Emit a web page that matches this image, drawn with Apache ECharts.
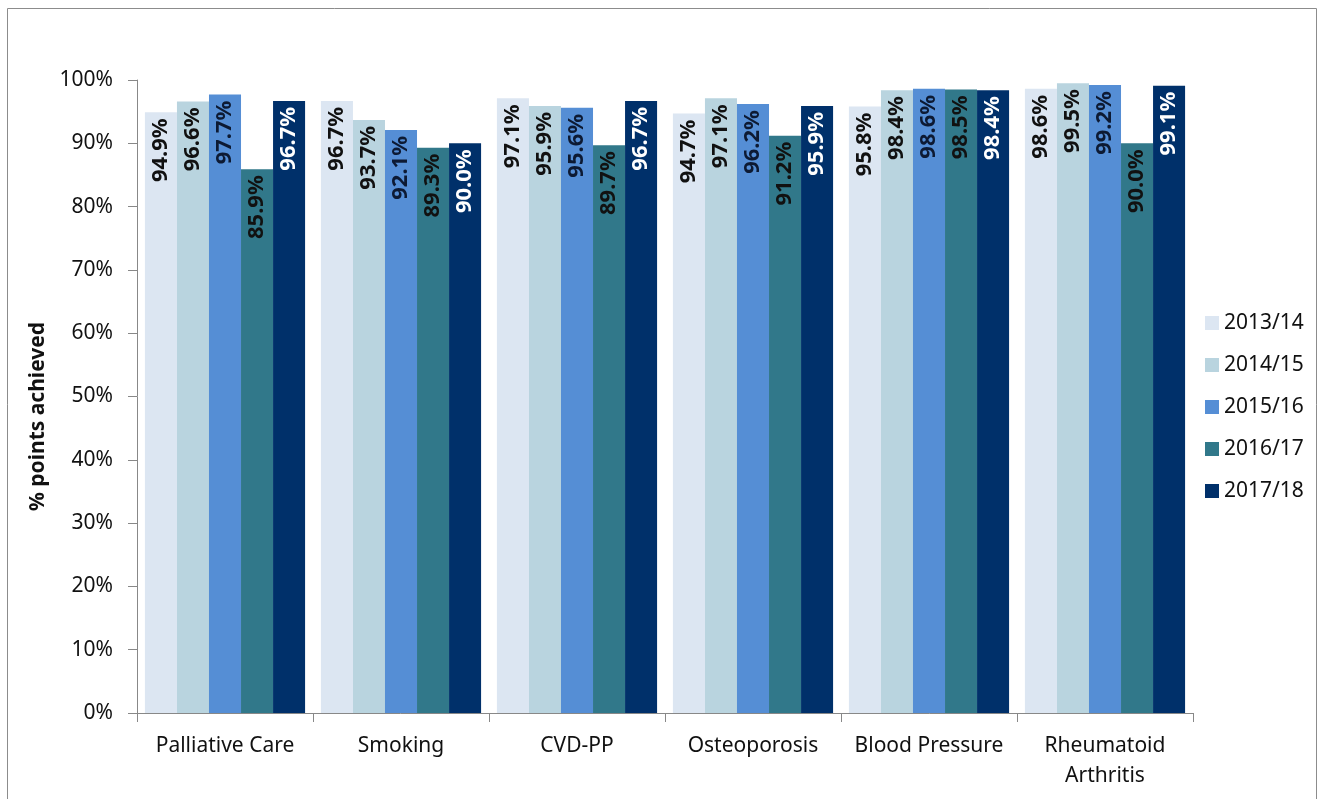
<!DOCTYPE html>
<html>
<head>
<meta charset="utf-8">
<script src="https://cdn.jsdelivr.net/npm/echarts@6/dist/echarts.min.js"></script>
<style>html,body{margin:0;padding:0;background:#fff}#c{width:1324px;height:799px}</style>
</head>
<body>
<div id="c"></div>
<script>
const categories = ['Palliative Care', 'Smoking', 'CVD-PP', 'Osteoporosis', 'Blood Pressure', 'Rheumatoid\nArthritis'];
const seriesNames = ['2013/14', '2014/15', '2015/16', '2016/17', '2017/18'];
const v2013 = [94.9, 96.7, 97.1, 94.7, 95.8, 98.6];
const v2014 = [96.6, 93.7, 95.9, 97.1, 98.4, 99.5];
const v2015 = [97.7, 92.1, 95.6, 96.2, 98.6, 99.2];
const v2016 = [85.9, 89.3, 89.7, 91.2, 98.5, 90.0];
const v2017 = [96.7, 90.0, 96.7, 95.9, 98.4, 99.1];
const yTicks = [0, 10, 20, 30, 40, 50, 60, 70, 80, 90, 100];

const values = [v2013, v2014, v2015, v2016, v2017];
const colors = ['#DCE6F2', '#B9D4DF', '#558ED5', '#31788A', '#00306A'];
const labelColors = ['#111', '#111', '#0d1a33', '#111', '#fff'];
const FONT = 'Noto Sans';

const chart = echarts.init(document.getElementById('c'));
chart.setOption({
  animation: false,
  textStyle: { fontFamily: FONT },
  graphic: [{
    type: 'rect', shape: { x: 7.5, y: 8.5, width: 1309, height: 800 },
    style: { fill: 'none', stroke: '#8c8c8c', lineWidth: 1 }, silent: true
  }],
  grid: { left: 137, right: 131, top: 80, bottom: 86 },
  legend: {
    orient: 'vertical', left: 1200, top: 307, itemGap: 20,
    itemWidth: 14, itemHeight: 14, icon: 'rect',
    textStyle: { fontFamily: FONT, fontSize: 21, color: '#111', lineHeight: 22 },
    data: seriesNames
  },
  xAxis: {
    type: 'category', data: categories,
    axisLine: { lineStyle: { color: '#888' } },
    axisTick: { show: true, length: 9, lineStyle: { color: '#888' } },
    axisLabel: { fontFamily: FONT, fontSize: 21, color: '#111', margin: 18, lineHeight: 30, interval: 0 }
  },
  yAxis: {
    type: 'value', min: 0, max: 100, interval: 10,
    name: '% points achieved', nameLocation: 'middle', nameGap: 82,
    nameTextStyle: { fontFamily: FONT, fontSize: 21, fontWeight: 'bold', color: '#111', padding: [0, 40, 0, 0] },
    axisLine: { show: true, lineStyle: { color: '#888' } },
    axisTick: { show: true, length: 9, lineStyle: { color: '#888' } },
    splitLine: { show: false },
    axisLabel: {
      fontFamily: FONT, fontSize: 21, color: '#111', margin: 24,
      formatter: function (v) { return yTicks.indexOf(v) >= 0 ? v + '%' : ''; }
    }
  },
  series: seriesNames.map(function (n, i) {
    return {
      name: n, type: 'bar', data: values[i],
      barGap: '0%', barCategoryGap: '9%',
      itemStyle: { color: colors[i] },
      label: {
        show: true, position: 'insideTop', rotate: 90, distance: 6,
        align: 'right', verticalAlign: 'middle',
        fontFamily: FONT, fontSize: 22, fontWeight: 'bold', color: labelColors[i],
        formatter: function (p) { return p.value.toFixed(1) + '%'; }
      }
    };
  })
});
</script>
</body>
</html>
